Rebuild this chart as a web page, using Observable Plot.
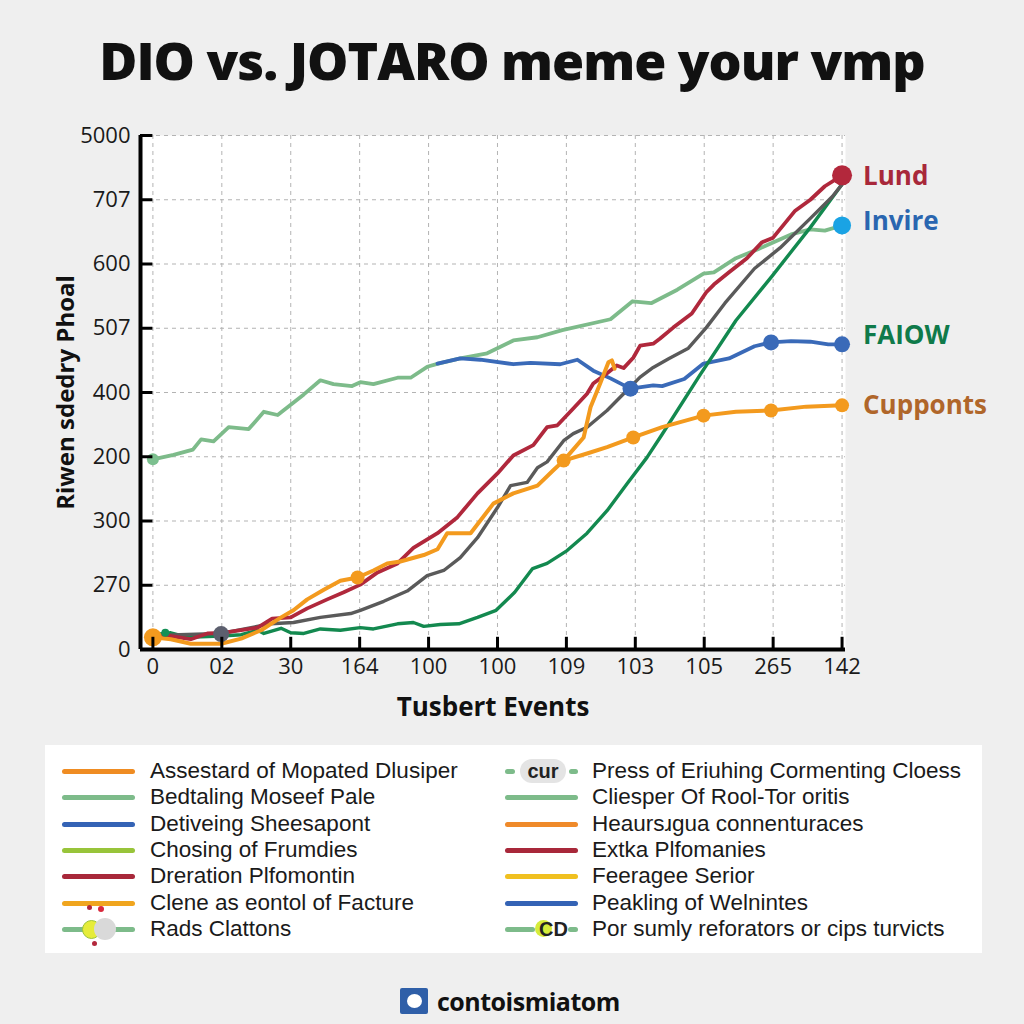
<!DOCTYPE html>
<html>
<head>
<meta charset="utf-8">
<script src="https://cdn.jsdelivr.net/npm/d3@7"></script>
<script src="https://cdn.jsdelivr.net/npm/@observablehq/plot@0.6"></script>
<style>
  html, body { margin: 0; padding: 0; background: #efefef; }
  #page { position: relative; width: 1024px; height: 1024px; overflow: hidden; font-family: "Open Sans", sans-serif; }
  #title { position: absolute; left: 0; width: 1024px; top: 24px; text-align: center; font-size: 52px; font-weight: 800; color: #111; letter-spacing: -1px; line-height: 72px; }
  #chart { position: absolute; left: 0; top: 100px; }
  #legend { position: absolute; left: 45px; top: 745px; width: 937px; height: 208px; background: #fff; }
  .row { position: absolute; height: 26px; font-size: 22.5px; color: #1a1a1a; white-space: nowrap; font-family: "Liberation Sans", Arial, sans-serif; }
  .sw { position: absolute; height: 5px; border-radius: 3px; }
  .lab { position: absolute; line-height: 26px; }
  #footer { position: absolute; top: 983px; left: 400px; height: 36px; display: flex; align-items: center; font-size: 25px; font-weight: 700; color: #111; letter-spacing: -0.5px; }
  #logo { width: 28px; height: 26px; background: #2f5fa8; margin-right: 9px; border-radius: 2px; position: relative; }
  #logo::after { content: ""; position: absolute; left: 7px; top: 6px; width: 15px; height: 14px; background: #fff; border-radius: 50%; }
</style>
</head>
<body>
<div id="page">
  <div id="title">DIO vs. JOTARO meme your vmp</div>
  <div id="chart"></div>
  <div id="legend"></div>
  <div id="footer"><div id="logo"></div>contoismiatom</div>
</div>
<script>
// ---------- tick labels ----------
const xTickLabels = ["0","02","30","164","100","100","109","103","105","265","142"];
const yTickLabels = ["0","270","300","200","400","507","600","707","5000"];
const xTicks = xTickLabels.map((_, i) => i);
const yTicks = yTickLabels.map((_, i) => i);

// ---------- series values [x, y] in tick units ----------
const invireLine = [[0,2.96],[0.30,3.03],[0.58,3.11],[0.70,3.27],[0.88,3.24],[1.10,3.46],[1.39,3.43],[1.61,3.70],[1.81,3.65],[2.00,3.81],[2.19,3.97],[2.43,4.19],[2.62,4.13],[2.89,4.10],[3.01,4.16],[3.20,4.13],[3.55,4.23],[3.74,4.23],[3.98,4.40],[4.14,4.45],[4.46,4.53],[4.85,4.61],[5.23,4.81],[5.58,4.86],[5.94,4.97],[6.64,5.14],[6.96,5.42],[7.23,5.39],[7.61,5.60],[7.99,5.85],[8.14,5.87],[8.46,6.09],[8.78,6.23],[9.26,6.46],[9.54,6.54],[9.75,6.52],[10,6.60]];
const blueLine = [[4.13,4.45],[4.46,4.53],[4.75,4.51],[5.23,4.44],[5.48,4.46],[5.91,4.44],[6.16,4.51],[6.39,4.34],[6.64,4.22],[6.93,4.06],[7.26,4.11],[7.39,4.10],[7.71,4.21],[7.99,4.45],[8.36,4.53],[8.73,4.72],[8.97,4.78],[9.26,4.80],[9.54,4.79],[9.80,4.75],[10,4.75]];
const faiowLine = [[0.01,0.23],[0.26,0.26],[0.51,0.19],[0.99,0.21],[1.28,0.23],[1.52,0.30],[1.61,0.25],[1.86,0.33],[2.00,0.26],[2.19,0.25],[2.43,0.32],[2.72,0.30],[3.01,0.34],[3.20,0.32],[3.55,0.40],[3.78,0.42],[3.93,0.36],[4.17,0.39],[4.44,0.40],[4.71,0.50],[4.98,0.61],[5.25,0.89],[5.51,1.26],[5.72,1.34],[6.01,1.54],[6.30,1.81],[6.59,2.16],[6.88,2.58],[7.17,2.99],[7.39,3.35],[7.93,4.26],[8.46,5.12],[8.99,5.82],[9.54,6.57],[10,7.24]];
const grayLine = [[0.01,0.22],[0.99,0.25],[1.71,0.40],[2.04,0.42],[2.43,0.50],[2.87,0.56],[3.01,0.61],[3.35,0.75],[3.69,0.91],[3.98,1.15],[4.22,1.23],[4.46,1.43],[4.71,1.74],[5.00,2.21],[5.19,2.55],[5.43,2.60],[5.58,2.83],[5.72,2.92],[5.96,3.25],[6.10,3.36],[6.30,3.46],[6.59,3.72],[6.83,3.98],[7.07,4.24],[7.26,4.39],[7.49,4.53],[7.77,4.69],[8.03,5.01],[8.30,5.39],[8.73,5.93],[9.10,6.25],[9.54,6.71],[9.86,7.05],[10,7.24]];
const lundLine = [[0.01,0.21],[0.26,0.21],[0.55,0.16],[0.79,0.25],[1.01,0.26],[1.28,0.30],[1.52,0.34],[1.73,0.48],[2.00,0.50],[2.24,0.64],[2.53,0.78],[2.77,0.89],[3.01,1.01],[3.26,1.20],[3.55,1.34],[3.78,1.58],[4.13,1.81],[4.42,2.06],[4.71,2.43],[5.00,2.74],[5.23,3.02],[5.52,3.18],[5.72,3.46],[5.87,3.49],[6.10,3.75],[6.30,3.98],[6.39,4.14],[6.59,4.30],[6.73,4.42],[6.83,4.38],[6.97,4.54],[7.07,4.73],[7.26,4.76],[7.36,4.84],[7.55,5.01],[7.82,5.23],[8.03,5.56],[8.14,5.68],[8.36,5.87],[8.62,6.09],[8.84,6.34],[9.00,6.41],[9.32,6.83],[9.54,7.00],[9.75,7.21],[10,7.38]];
const cuppontsLine = [[0,0.19],[0.26,0.16],[0.55,0.09],[0.99,0.09],[1.28,0.17],[1.57,0.30],[1.86,0.50],[2.04,0.61],[2.24,0.78],[2.48,0.93],[2.72,1.07],[2.97,1.12],[3.20,1.23],[3.40,1.34],[3.59,1.37],[3.93,1.47],[4.13,1.56],[4.27,1.81],[4.61,1.81],[4.94,2.27],[5.23,2.43],[5.58,2.55],[5.81,2.79],[5.96,2.94],[6.30,3.05],[6.59,3.15],[6.97,3.30],[7.39,3.46],[7.99,3.64],[8.46,3.70],[8.97,3.72],[9.48,3.78],[10,3.80]];
const spikeLine = [[5.96,2.94],[6.25,3.30],[6.35,3.77],[6.49,4.14],[6.61,4.47],[6.66,4.50],[6.70,4.37]];

// marker points
const cuppontsDots = [[2.97,1.12],[5.96,2.94],[6.97,3.30],[7.99,3.64],[8.97,3.72],[10,3.80]];
const blueDots = [[6.93,4.06],[8.97,4.78],[10,4.75]];
const specialDots = [[0,0.19,"#f39a1e",9],[0.99,0.24,"#5c5f6e",8],[0.18,0.26,"#139056",4],[0,2.96,"#7cc08f",6],[10,7.38,"#b3283c",10],[10,6.60,"#1aa3e4",9]];

// end labels
const endLabels = ["Lund","Invire","FAIOW","Cupponts"];
const endLabelY = [7.36,6.66,4.89,3.80];
const endLabelColors = ["#a8283a","#2a66b0","#0f7a4a","#b0662a"];

// legend
const legendLeft = ["Assestard of Mopated Dlusiper","Bedtaling Moseef Pale","Detiveing Sheesapont","Chosing of Frumdies","Dreration Plfomontin","Clene as eontol of Facture","Rads Clattons"];
const legendLeftColors = ["#ef8c22","#7dbb8a","#3463b5","#98c43a","#a8283a","#f0a51e","#7dbb8a"];
const legendRight = ["Press of Eriuhing Cormenting Cloess","Cliesper Of Rool-Tor oritis","Heaursɹgua connenturaces","Extka Plfomanies","Feeragee Serior","Peakling of Welnintes","Por sumly reforators or cips turvicts"];
const legendRightColors = ["#7dbb8a","#7dbb8a","#ef8a2a","#a8283a","#f0c020","#3463b5","#7dbb8a"];

// ---------- build ----------
const toRows = (arr, name) => arr.map(([x, y]) => ({series: name, x, y}));
const xMin = -0.18;
const xTickLen = 0.19, yTickLen = 0.18;

const lineMark = (arr, name, color, w) =>
  Plot.line(toRows(arr, name), {x: "x", y: "y", stroke: color, strokeWidth: w, strokeLinejoin: "round", strokeLinecap: "round"});

const chart = Plot.plot({
  width: 1024,
  height: 630,
  marginLeft: 140,
  marginRight: 179,
  marginTop: 35,
  marginBottom: 81,
  style: {background: "transparent", fontFamily: "Open Sans, sans-serif"},
  x: {domain: [xMin, 10.05], axis: null},
  y: {domain: [0, 8], axis: null},
  r: {type: "identity"},
  marks: [
    Plot.frame({fill: "white", stroke: "none"}),
    Plot.gridX(xTicks, {stroke: "#b3b3b3", strokeOpacity: 1, strokeDasharray: "4,4"}),
    Plot.gridY(yTicks.slice(1), {stroke: "#b3b3b3", strokeOpacity: 1, strokeDasharray: "4,4"}),
    lineMark(invireLine, "Invire", "#7dbb8a", 3.8),
    lineMark(blueLine, "Blue", "#3a6ab8", 3.8),
    lineMark(faiowLine, "FAIOW", "#13894f", 3.4),
    lineMark(grayLine, "Gray", "#5a5a5a", 3.4),
    lineMark(lundLine, "Lund", "#b0283c", 3.8),
    lineMark(cuppontsLine, "Cupponts", "#f39a1e", 4),
    lineMark(spikeLine, "Spike", "#f39a1e", 4),
    Plot.dot(cuppontsDots, {x: d => d[0], y: d => d[1], r: 7, fill: "#f39a1e"}),
    Plot.dot(blueDots, {x: d => d[0], y: d => d[1], r: 8, fill: "#3a6ab8"}),
    Plot.dot(specialDots, {x: d => d[0], y: d => d[1], r: d => d[3], fill: d => d[2]}),
    Plot.ruleY([0], {stroke: "black", strokeWidth: 4}),
    Plot.ruleX([xMin], {stroke: "black", strokeWidth: 4}),
    Plot.ruleX(xTicks, {x: d => d, y1: 0, y2: xTickLen, stroke: "black", strokeWidth: 3}),
    Plot.ruleY(yTicks.slice(1), {y: d => d, x1: xMin, x2: xMin + yTickLen, stroke: "black", strokeWidth: 3}),
    Plot.axisX(xTicks, {tickFormat: i => xTickLabels[i], tickSize: 0, tickPadding: 9, fontSize: 22, label: null, fill: "#1a1a1a"}),
    Plot.axisY(yTicks, {tickFormat: i => yTickLabels[i], tickSize: 0, tickPadding: 10, fontSize: 22, label: null, fill: "#1a1a1a", anchor: "left"}),
    Plot.text(["Tusbert Events"], {frameAnchor: "bottom", dy: 66, fontSize: 26, fontWeight: "bold", fill: "#111"}),
    Plot.text(["Riwen sdedry Phoal"], {frameAnchor: "left", dx: -74, rotate: -90, textAnchor: "middle", fontSize: 24, fontWeight: "bold", fill: "#111"}),
    Plot.text(endLabels, {x: 10, y: (d, i) => endLabelY[i], text: d => d, fill: (d, i) => endLabelColors[i], dx: 21, textAnchor: "start", fontSize: 26, fontWeight: "bold"})
  ]
});
document.getElementById("chart").appendChild(chart);

// ---------- legend ----------
const legend = document.getElementById("legend");
function addRow(text, color, i, col) {
  const row = document.createElement("div");
  row.className = "row";
  const top = 13 + i * 26.3;
  row.style.top = top + "px";
  row.style.left = (col === 0 ? 17 : 460) + "px";
  row.style.width = "460px";
  const special = (col === 0 && i === 6) ? "rads" : (col === 1 && i === 0) ? "cur" : (col === 1 && i === 6) ? "cd" : null;
  let sw = "";
  if (special === "rads") {
    sw = `<div class="sw" style="left:0;width:73px;top:11px;background:${color}"></div>
          <div style="position:absolute;left:20px;top:4px;width:17px;height:17px;border-radius:50%;background:#e6ec3a;border:1px solid #9cc43a"></div>
          <div style="position:absolute;left:32px;top:2px;width:22px;height:22px;border-radius:50%;background:#d9d9d9"></div>
          <div style="position:absolute;left:25px;top:-11px;width:5px;height:5px;border-radius:50%;background:#b3283c"></div>
          <div style="position:absolute;left:36px;top:-10px;width:6px;height:6px;border-radius:50%;background:#d8283c"></div>
          <div style="position:absolute;left:30px;top:25px;width:5px;height:5px;border-radius:50%;background:#b3283c"></div>`;
  } else if (special === "cur") {
    sw = `<div class="sw" style="left:0;width:10px;top:11px;background:${color}"></div>
          <div style="position:absolute;left:15px;top:1px;width:46px;height:24px;border-radius:12px;background:#e4e4e4;font-weight:700;font-size:20px;line-height:24px;text-align:center;color:#222">cur</div>
          <div class="sw" style="left:64px;width:9px;top:11px;background:${color}"></div>`;
  } else if (special === "cd") {
    sw = `<div class="sw" style="left:0;width:30px;top:11px;background:${color}"></div>
          <div style="position:absolute;left:30px;top:4px;width:17px;height:17px;border-radius:50%;background:#d6ec3a"></div>
          <div style="position:absolute;left:34px;top:1px;font-weight:800;font-size:20px;line-height:24px;color:#222">CD</div>
          <div class="sw" style="left:63px;width:10px;top:11px;background:${color}"></div>`;
  } else {
    sw = `<div class="sw" style="left:0;width:73px;top:11px;background:${color}"></div>`;
  }
  row.innerHTML = sw + `<div class="lab" style="left:${col === 0 ? 88 : 87}px;top:0">${text}</div>`;
  legend.appendChild(row);
}
legendLeft.forEach((t, i) => addRow(t, legendLeftColors[i], i, 0));
legendRight.forEach((t, i) => addRow(t, legendRightColors[i], i, 1));
</script>
</body>
</html>
